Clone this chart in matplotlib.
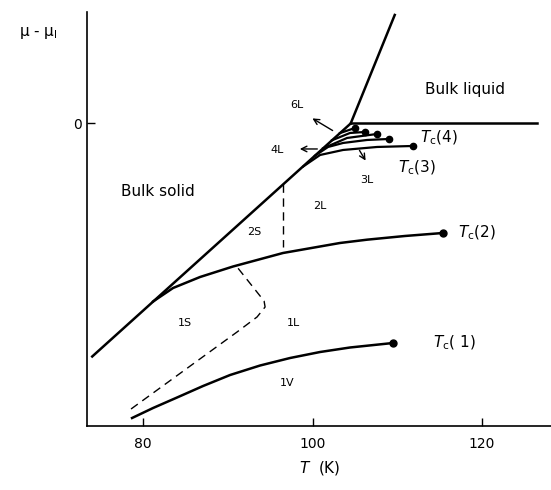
import matplotlib
matplotlib.use("Agg")
import matplotlib.pyplot as plt

# coexistence lines (T in K, mu - mu_l in arbitrary units)
solid_T = [74.0, 104.5]
solid_mu = [-2.33, 0.0]
melt_T = [104.5, 109.7]
melt_mu = [0.0, 1.085]
liquid_T = [104.5, 126.5]
liquid_mu = [0.0, 0.0]

# layering transitions
l1_T = [78.70, 81.18, 84.01, 87.08, 90.27, 93.81, 97.35, 100.89, 104.42, 109.50]
l1_mu = [-2.945, -2.845, -2.74, -2.625, -2.515, -2.42, -2.345, -2.285, -2.24, -2.195]
l2_T = [81.18, 83.54, 86.73, 90.62, 96.52, 103.24, 106.43, 110.91, 115.40]
l2_mu = [-1.78, -1.645, -1.535, -1.43, -1.295, -1.195, -1.162, -1.125, -1.095]
l3_T = [98.9, 100.89, 103.60, 107.61, 111.86]
l3_mu = [-0.43, -0.315, -0.265, -0.235, -0.225]
l4_T = [100.29, 101.83, 103.60, 106.43, 109.03]
l4_mu = [-0.322, -0.235, -0.195, -0.165, -0.155]
l5_T = [101.24, 104.07, 107.61]
l5_mu = [-0.249, -0.145, -0.105]
l6_T = [102.30, 104.42, 106.19]
l6_mu = [-0.168, -0.095, -0.085]
l7_T = [103.24, 105.01]
l7_mu = [-0.096, -0.045]

# dashed lines (melting of the 1st and 2nd layer)
d1_T = [78.58, 91.09, 93.45, 94.40, 94.28, 91.09]
d1_mu = [-2.855, -2.085, -1.935, -1.835, -1.775, -1.435]
d2_T = [96.52, 96.52]
d2_mu = [-0.605, -1.235]

fig = plt.figure(figsize=(5.51, 4.90), dpi=100)
ax = fig.add_axes([0.158, 0.1306, 0.842, 0.845])

lw = 1.8
ax.plot(solid_T, solid_mu, 'k-', lw=lw)
ax.plot(melt_T, melt_mu, 'k-', lw=lw)
ax.plot(liquid_T, liquid_mu, 'k-', lw=lw)

for T, mu in [(l1_T, l1_mu), (l2_T, l2_mu)]:
    ax.plot(T, mu, 'k-', lw=lw, solid_joinstyle='round')
    ax.plot(T[-1], mu[-1], 'ko', ms=5)
for T, mu in [(l3_T, l3_mu), (l4_T, l4_mu), (l5_T, l5_mu), (l6_T, l6_mu), (l7_T, l7_mu)]:
    ax.plot(T, mu, 'k-', lw=1.6)
    ax.plot(T[-1], mu[-1], 'ko', ms=4.5)

ax.plot(d1_T, d1_mu, 'k--', lw=1.0, dashes=(6, 4))
ax.plot(d2_T, d2_mu, 'k--', lw=1.0, dashes=(6, 4))

arr = dict(arrowstyle='->', color='k', lw=1.0)
ax.annotate('', xy=(99.70, 0.065), xytext=(102.65, -0.085), arrowprops=arr)
ax.annotate('', xy=(98.17, -0.255), xytext=(100.89, -0.255), arrowprops=arr)
ax.annotate('', xy=(106.43, -0.395), xytext=(105.37, -0.245), arrowprops=arr)

small = 8
ax.text(98.17, 0.185, '6L', fontsize=small, ha='center', va='center')
ax.text(95.81, -0.265, '4L', fontsize=small, ha='center', va='center')
ax.text(106.43, -0.565, '3L', fontsize=small, ha='center', va='center')
ax.text(93.10, -1.085, '2S', fontsize=small, ha='center', va='center')
ax.text(100.89, -0.825, '2L', fontsize=small, ha='center', va='center')
ax.text(84.96, -1.995, '1S', fontsize=small, ha='center', va='center')
ax.text(97.70, -1.995, '1L', fontsize=small, ha='center', va='center')
ax.text(96.99, -2.595, '1V', fontsize=small, ha='center', va='center')

big = 11
ax.text(117.99, 0.335, 'Bulk liquid', fontsize=big, ha='center', va='center')
ax.text(81.77, -0.685, 'Bulk solid', fontsize=big, ha='center', va='center')
ax.text(112.68, -0.145, r'$T_{\rm c}$(4)', fontsize=big, ha='left', va='center')
ax.text(110.09, -0.445, r'$T_{\rm c}$(3)', fontsize=big, ha='left', va='center')
ax.text(117.17, -1.095, r'$T_{\rm c}$(2)', fontsize=big, ha='left', va='center')
ax.text(114.22, -2.195, r'$T_{\rm c}$( 1)', fontsize=big, ha='left', va='center')

ax.set_xlim(73.39, 128.14)
ax.set_ylim(-3.025, 1.115)
ax.set_xticks([80, 100, 120])
ax.set_yticks([0])
ax.tick_params(direction='in', length=6, width=1.0, labelsize=10)
ax.tick_params(axis='x', pad=8)
ax.spines['top'].set_visible(False)
ax.spines['right'].set_visible(False)
for s in ['left', 'bottom']:
    ax.spines[s].set_linewidth(1.2)

fig.text(0.58, 0.045, r'$T$  (K)', fontsize=11, ha='center', va='center')
fig.text(0.07, 0.933, r'μ - μ$_{\rm l}$', fontsize=11, ha='center', va='center')

fig.savefig('out.png', dpi=100)
